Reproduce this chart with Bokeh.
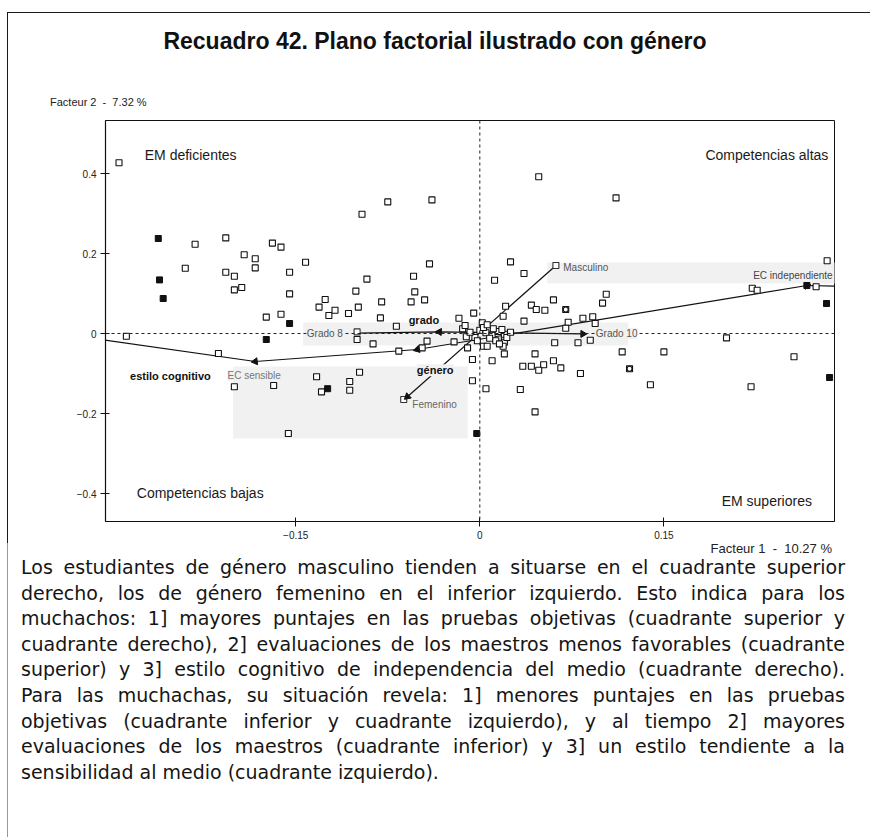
import math
from bokeh.plotting import figure
from bokeh.models import Label, Span, BoxAnnotation, FixedTicker, Div
from bokeh.layouts import column
from bokeh.embed import file_html
from bokeh.resources import INLINE

# ---------------------------------------------------------------- data
TITLE = "Recuadro 42. Plano factorial ilustrado con género"
AXIS1_TITLE = "Facteur 1&nbsp; - &nbsp;10.27 %"
AXIS2_TITLE = "Facteur 2&nbsp; - &nbsp;7.32 %"

x_ticks = [-0.15, 0, 0.15]
y_ticks = [-0.4, -0.2, 0, 0.2, 0.4]

# individuals (open squares)
open_x = [-0.294, -0.232, -0.207, -0.169, -0.162, -0.096, -0.075, -0.039, -0.192, -0.183,
          -0.240, -0.183, -0.142, -0.207, -0.200, -0.155, -0.092, -0.200, -0.194, -0.155,
          -0.101, -0.080, -0.131, -0.126, -0.123, -0.118, -0.107, -0.099, -0.174, -0.162,
          -0.081, 0.048, 0.111, -0.041, 0.025, 0.036, 0.012, -0.054, -0.053, -0.056,
          -0.045, 0.060, 0.103, 0.100, 0.021, 0.042, 0.046, 0.053, -0.005, -0.017,
          0.019, 0.084, 0.092, 0.283, 0.222, 0.226, 0.274, -0.288, -0.213, -0.200,
          -0.168, -0.133, -0.129, -0.106, -0.106, -0.098, -0.156, -0.100, -0.087, -0.068,
          -0.014, -0.011, -0.043, -0.021, -0.047, -0.066, -0.010, 0.002, 0.003, 0.006,
          0.020, 0.020, 0.019, 0.020, -0.006, 0.010, -0.006, 0.005, 0.061, 0.080,
          0.090, 0.072, 0.070, 0.094, 0.036, 0.045, 0.060, 0.035, 0.042, 0.052,
          0.048, 0.066, 0.082, 0.033, 0.045, 0.116, 0.150, 0.139, 0.201, 0.256,
          0.221,
          0.000, 0.005, 0.010, 0.015, 0.020, 0.008, 0.013, -0.004, 0.018, 0.022,
          0.003, -0.008, 0.011, 0.025, -0.002, 0.016, -0.012, 0.006]
open_y = [0.427, 0.223, 0.239, 0.226, 0.216, 0.298, 0.329, 0.334, 0.197, 0.187,
          0.163, 0.164, 0.178, 0.153, 0.143, 0.153, 0.136, 0.109, 0.115, 0.099,
          0.106, 0.079, 0.066, 0.085, 0.045, 0.058, 0.050, 0.066, 0.041, 0.048,
          0.039, 0.392, 0.339, 0.174, 0.179, 0.150, 0.133, 0.143, 0.104, 0.079,
          0.084, 0.084, 0.098, 0.076, 0.068, 0.071, 0.060, 0.058, 0.051, 0.038,
          0.043, 0.038, 0.042, 0.182, 0.113, 0.108, 0.117, -0.007, -0.050, -0.133,
          -0.130, -0.108, -0.146, -0.120, -0.142, -0.097, -0.250, -0.015, -0.026, 0.018,
          0.012, -0.008, -0.019, -0.021, -0.036, -0.044, -0.036, 0.027, -0.032, -0.032,
          -0.013, -0.022, -0.032, -0.051, -0.065, -0.068, -0.118, -0.138, -0.023, -0.023,
          -0.017, 0.028, 0.013, 0.025, 0.031, -0.051, -0.068, -0.082, -0.082, -0.078,
          -0.092, -0.086, -0.100, -0.140, -0.196, -0.046, -0.046, -0.128, -0.011, -0.058,
          -0.133,
          0.008, 0.002, -0.004, 0.005, -0.002, -0.012, -0.018, -0.010, 0.010, -0.010,
          0.015, 0.003, 0.012, 0.003, -0.018, -0.026, 0.020, 0.022]

# individuals (filled squares)
filled_x = [-0.262, -0.261, -0.258, -0.155, -0.174, -0.124, -0.0025, 0.2665, 0.2825, 0.285]
filled_y = [0.2375, 0.134, 0.0875, 0.025, -0.015, -0.138, -0.250, 0.120, 0.075, -0.110]

# superimposed individuals (square with ring)
ringed_x = [0.070, 0.122]
ringed_y = [0.060, -0.088]

# supplementary variables: trajectories through their categories
estilo_x = [-0.330, -0.183, -0.051, 0.2665, 0.320]
estilo_y = [-0.006, -0.070, -0.040, 0.120, 0.116]
grado_x = [-0.100, -0.033, 0.084]
grado_y = [0.001, 0.004, -0.001]
genero_x = [-0.059, 0.062]
genero_y = [-0.158, 0.170]

# category points marked with an arrow head
arrow_x = [-0.183, -0.051, 0.2665, -0.033, 0.084, -0.059]
arrow_y = [-0.070, -0.040, 0.120, 0.004, -0.001, -0.158]

# category points marked with an open square
cat_x = [0.062, -0.062, -0.100]
cat_y = [0.170, -0.165, 0.004]

# (text, x, y, align, size, style, color, background)
labels = [
    ("EM deficientes", -0.273, 0.446, "left", "14px", "normal", "#1a1a1a", None),
    ("Competencias altas", 0.284, 0.446, "right", "14px", "normal", "#1a1a1a", None),
    ("Competencias bajas", -0.2795, -0.3975, "left", "14px", "normal", "#1a1a1a", None),
    ("EM superiores", 0.2706, -0.4175, "right", "14px", "normal", "#1a1a1a", None),
    ("Masculino", 0.068, 0.165, "left", "10px", "normal", "#555555", None),
    ("EC independiente", 0.2875, 0.145, "right", "10px", "normal", "#444444", "#f1f1f1"),
    ("Grado 8", -0.141, 0.0, "left", "10px", "normal", "#555555", "#f1f1f1"),
    ("Grado 10", 0.0945, 0.0, "left", "10px", "normal", "#555555", "#f1f1f1"),
    ("Femenino", -0.055, -0.1775, "left", "10px", "normal", "#666666", "#f1f1f1"),
    ("EC sensible", -0.2056, -0.105, "left", "10px", "normal", "#777777", "#f1f1f1"),
    ("grado", -0.058, 0.035, "left", "11px", "bold", "#111111", None),
    ("género", -0.0513, -0.092, "left", "11px", "bold", "#111111", "#f1f1f1"),
    ("estilo cognitivo", -0.285, -0.107, "left", "11px", "bold", "#111111", None),
]

# light backgrounds behind the label groups (left, right, bottom, top)
label_boxes = [
    (0.055, 0.315, 0.125, 0.1775),
    (-0.144, 0.121, -0.030, 0.0275),
    (-0.201, -0.0098, -0.2625, -0.0825),
]

paragraph = [
    "Los estudiantes de género masculino tienden a situarse en el cuadrante superior",
    "derecho, los de género femenino en el inferior izquierdo. Esto indica para los",
    "muchachos: 1] mayores puntajes en las pruebas objetivas (cuadrante superior y",
    "cuadrante derecho), 2] evaluaciones de los maestros menos favorables (cuadrante",
    "superior) y 3] estilo cognitivo de independencia del medio (cuadrante derecho).",
    "Para las muchachas, su situación revela: 1] menores puntajes en las pruebas",
    "objetivas (cuadrante inferior y cuadrante izquierdo), y al tiempo 2] mayores",
    "evaluaciones de los maestros (cuadrante inferior) y 3] un estilo tendiente a la",
    "sensibilidad al medio (cuadrante izquierdo).",
]

# ---------------------------------------------------------------- heading
FONT = "Liberation Sans"
head_html = (
    '<div style="position:relative;width:863px;height:101px;font-family:\'Liberation Sans\';color:#111;">'
    f'<div style="position:absolute;left:0;top:15px;width:854px;text-align:center;'
    f'font-size:23px;line-height:27px;font-weight:bold;white-space:nowrap;">{TITLE}</div>'
    f'<div style="position:absolute;left:42px;top:83px;font-size:11px;line-height:13px;'
    f'color:#222;white-space:nowrap;">{AXIS2_TITLE}</div>'
    '</div>'
)
head = Div(text=head_html, width=863, height=101, margin=0,
           styles={"border-top": "1px solid #1a1a1a", "border-left": "1px solid #1a1a1a"})

# ---------------------------------------------------------------- figure
X_RANGE = (-0.305, 0.289)
Y_RANGE = (-0.47, 0.5325)

p = figure(width=863, height=430, x_range=X_RANGE, y_range=Y_RANGE,
           output_backend="svg", toolbar_location=None, title=None,
           min_border_left=97, min_border_right=37, min_border_top=7,
           min_border_bottom=22)
p.background_fill_color = "white"
p.border_fill_color = "white"
p.outline_line_color = "#111111"
p.outline_line_width = 1
p.xgrid.visible = False
p.ygrid.visible = False

for ax, ticks in ((p.xaxis, x_ticks), (p.yaxis, y_ticks)):
    ax.ticker = FixedTicker(ticks=ticks)
    ax.minor_tick_line_color = None
    ax.major_tick_in = 4
    ax.major_tick_out = 5
    ax.axis_line_color = "#111111"
    ax.axis_line_width = 1.2
    ax.major_tick_line_color = "#111111"
    ax.major_label_text_font = FONT
    ax.major_label_text_font_size = "10px"
    ax.major_label_text_color = "#222222"
    ax.major_label_standoff = 4

for box in label_boxes:
    p.add_layout(BoxAnnotation(left=box[0], right=box[1], bottom=box[2], top=box[3],
                               fill_color="#f1f1f1", fill_alpha=1.0,
                               line_color=None, level="underlay"))

p.add_layout(Span(location=0, dimension="height", line_color="#222222",
                  line_dash="3 3", line_width=1))
p.add_layout(Span(location=0, dimension="width", line_color="#222222",
                  line_dash="3 3", line_width=1))

for lx, ly in ((estilo_x, estilo_y), (grado_x, grado_y), (genero_x, genero_y)):
    p.line(lx, ly, line_color="#111111", line_width=1.2)

p.scatter(open_x, open_y, marker="square", size=6, fill_color="white",
          line_color="#111111", line_width=1.1)
p.scatter(filled_x, filled_y, marker="square", size=6, fill_color="#111111",
          line_color="#111111")
p.scatter(ringed_x, ringed_y, marker="square", size=6, fill_color="white",
          line_color="#111111", line_width=1.1)
p.scatter(ringed_x, ringed_y, marker="circle", size=5, fill_color=None,
          line_color="#111111", line_width=1.1)
p.scatter(cat_x, cat_y, marker="square", size=6, fill_color="white",
          line_color="#333333", line_width=1.1)

# arrow heads point away from the origin
sx = 729 / (X_RANGE[1] - X_RANGE[0])
sy = 401 / (Y_RANGE[1] - Y_RANGE[0])
angles = [math.atan2(y * sy, x * sx) - math.pi / 2 for x, y in zip(arrow_x, arrow_y)]
p.scatter(arrow_x, arrow_y, marker="triangle", size=7, angle=angles,
          fill_color="#111111", line_color="#111111")

for text, x, y, align, size, style, color, bg in labels:
    kw = {}
    if bg is not None:
        kw = dict(background_fill_color=bg, background_fill_alpha=1.0)
    p.add_layout(Label(x=x, y=y, text=text, text_align=align, text_baseline="middle",
                       text_font=FONT, text_font_size=size, text_font_style=style,
                       text_color=color, **kw))

p.styles = {"border-left": "1px solid #1a1a1a"}

# ---------------------------------------------------------------- commentary
rows = []
for i, line in enumerate(paragraph):
    last = i == len(paragraph) - 1
    align = "left" if last else "justify"
    rows.append(f'<div style="text-align:{align};text-align-last:{align};">{line}</div>')
foot_html = (
    '<div style="width:863px;">'
    f'<div style="width:824px;text-align:right;font-family:\'Liberation Sans\';font-size:13px;'
    f'line-height:12px;color:#222;white-space:nowrap;">{AXIS1_TITLE}</div>'
    '<div style="width:824px;margin-left:13px;font-family:\'DejaVu Sans\';'
    'font-size:19px;line-height:25.6px;color:#151515;">' + "".join(rows) + "</div>"
    "</div>"
)
foot = Div(text=foot_html, width=863, height=294, margin=0,
           styles={"border-left": "1px solid #999999"})

layout = column(head, p, foot, spacing=0, margin=(12, 0, 0, 7))

open("out.html", "w").write(file_html(layout, INLINE))
